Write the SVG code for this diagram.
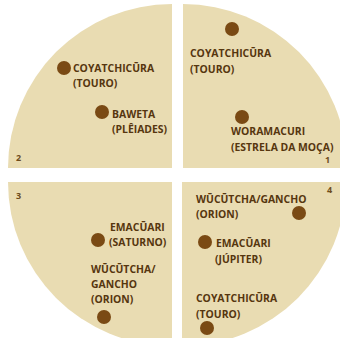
<svg xmlns="http://www.w3.org/2000/svg" width="340" height="338" viewBox="0 0 340 338">
<style>
.q{fill:#e9dcb2}
.d{fill:#7a4a14}
.t{font-family:"Open Sans","Noto Sans","Liberation Sans",sans-serif;font-weight:700;font-size:10.4px;fill:#56360f}
.n{font-family:"Open Sans","Noto Sans","Liberation Sans",sans-serif;font-weight:700;font-size:9px;fill:#6e4c1c}
</style>
<rect width="340" height="338" fill="#ffffff"/>
<g id="quadrant-2">
<path class="q" d="M172,168 L8,168 A164,164 0 0 1 172,4 Z"/>
<text class="n" x="16" y="161">2</text>
</g>
<g id="quadrant-1">
<path class="q" d="M183,168 L183,4 A164,164 0 0 1 347,168 Z"/>
<text class="n" x="325" y="163">1</text>
</g>
<g id="quadrant-3">
<path class="q" d="M172,182 L172,346 A164,164 0 0 1 8,182 Z"/>
<text class="n" x="16" y="199">3</text>
</g>
<g id="quadrant-4">
<path class="q" d="M182,182 L346,182 A164,164 0 0 1 182,346 Z"/>
<text class="n" x="327" y="193">4</text>
</g>
<g id="connectors"/>
<g id="q2-coyatchicura">
<circle class="d" cx="64" cy="68" r="7"/>
<text class="t" x="73" y="72">COYATCHICŪRA</text>
<text class="t" x="73" y="87">(TOURO)</text>
</g>
<g id="q2-baweta">
<circle class="d" cx="102" cy="112" r="7"/>
<text class="t" x="112" y="118">BAWETA</text>
<text class="t" x="112" y="133">(PLÊIADES)</text>
</g>
<g id="q1-coyatchicura">
<circle class="d" cx="232" cy="29" r="7"/>
<text class="t" x="190" y="57">COYATCHICŪRA</text>
<text class="t" x="190" y="73">(TOURO)</text>
</g>
<g id="q1-woramacuri">
<circle class="d" cx="242" cy="117" r="7"/>
<text class="t" x="231" y="135">WORAMACURI</text>
<text class="t" x="231" y="151">(ESTRELA DA MOÇA)</text>
</g>
<g id="q3-emacuari">
<circle class="d" cx="98" cy="240" r="7"/>
<text class="t" x="110" y="231">EMACŪARI</text>
<text class="t" x="109" y="246">(SATURNO)</text>
</g>
<g id="q3-wucutcha">
<text class="t" x="91" y="273">WŪCŪTCHA/</text>
<text class="t" x="91" y="288">GANCHO</text>
<text class="t" x="91" y="303">(ORION)</text>
<circle class="d" cx="104" cy="317" r="7"/>
</g>
<g id="q4-wucutcha">
<text class="t" x="196" y="203">WŪCŪTCHA/GANCHO</text>
<text class="t" x="196" y="218">(ORION)</text>
<circle class="d" cx="299" cy="213" r="7"/>
</g>
<g id="q4-emacuari">
<circle class="d" cx="205" cy="242" r="7"/>
<text class="t" x="216" y="247">EMACŪARI</text>
<text class="t" x="215" y="263">(JÚPITER)</text>
</g>
<g id="q4-coyatchicura">
<text class="t" x="196" y="302">COYATCHICŪRA</text>
<text class="t" x="196" y="318">(TOURO)</text>
<circle class="d" cx="207" cy="328" r="7"/>
</g>
</svg>
